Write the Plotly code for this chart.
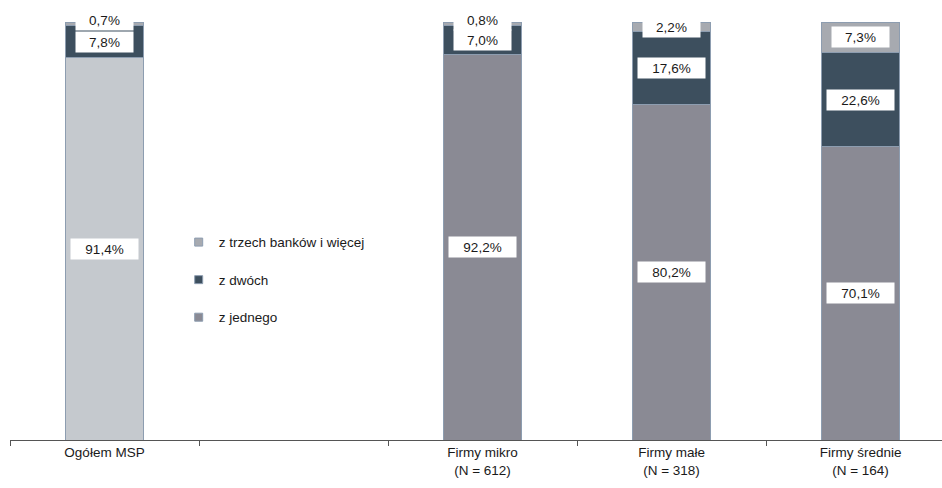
import plotly.graph_objects as go

categories = ["Ogółem MSP", " ", "Firmy mikro<br>(N = 612)", "Firmy małe<br>(N = 318)", "Firmy średnie<br>(N = 164)"]
series_names = ["z jednego", "z dwóch", "z trzech banków i więcej"]
z_jednego = [91.4, None, 92.2, 80.2, 70.1]
z_dwoch = [7.8, None, 7.0, 17.6, 22.6]
z_trzech = [0.7, None, 0.8, 2.2, 7.3]

c_one = "#8a8a94"
c_one_total = "#c5c9ce"
c_two = "#3d4f5e"
c_three = "#a7aab0"
edge = "#8d9db0"
font_family = "Arial, Liberation Sans, sans-serif"

fig = go.Figure()
series = [z_jednego, z_dwoch, z_trzech]
colors = [[c_one_total, c_one, c_one, c_one, c_one], c_two, c_three]
legend_colors = [c_one, c_two, c_three]

for name, vals, col in zip(series_names, series, colors):
    fig.add_trace(go.Bar(x=categories, y=vals, name=name, marker=dict(color=col, line=dict(color=edge, width=1)),
                         showlegend=False, hoverinfo="skip"))

for i, (name, col) in enumerate(zip(series_names, legend_colors)):
    fig.add_trace(go.Scatter(x=[None], y=[None], mode="markers", name=name, legendgroup=f"g{i}",
                             legendrank=1000 - i,
                             marker=dict(symbol="square", size=8, color=col, line=dict(color=edge, width=1))))

annotations = []
for ci, cat in enumerate(categories):
    base = 0
    for vals in series:
        v = vals[ci]
        if v is None:
            continue
        txt = f"{v:.1f}".replace(".", ",") + "%"
        annotations.append(dict(x=cat, y=base + v / 2, xref="x", yref="y", text=txt, showarrow=False,
                                yshift=4 if v < 1.5 else 0,
                                bgcolor="white", width=55 if len(txt) <= 4 else 65, height=18,
                                font=dict(family=font_family, size=13.5, color="#1a1a1a")))
        base += v

fig.update_layout(
    barmode="stack",
    bargap=0.587,
    width=942, height=488,
    margin=dict(l=10, r=0, t=22, b=48),
    paper_bgcolor="white", plot_bgcolor="white",
    font=dict(family=font_family, size=13, color="#1a1a1a"),
    annotations=annotations,
    legend=dict(x=0.181, y=0.51, xanchor="left", yanchor="top", traceorder="grouped",
                tracegroupgap=17, font=dict(size=13.5), bgcolor="rgba(0,0,0,0)"),
    xaxis=dict(type="category", range=[-0.5, 4.431], showline=True, linecolor="#555555", linewidth=1,
               ticks="outside", tickson="boundaries", ticklen=5, tickcolor="#555555",
               showgrid=False, tickfont=dict(size=13.5, color="#1a1a1a")),
    yaxis=dict(range=[0, 100], visible=False, showgrid=False),
)

fig.write_html("out.html")
